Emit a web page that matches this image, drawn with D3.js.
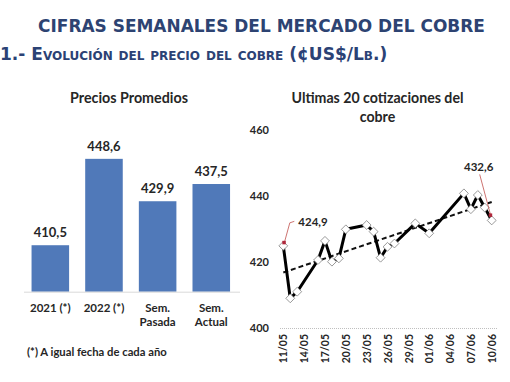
<!DOCTYPE html>
<html><head><meta charset="utf-8">
<script src="https://cdn.jsdelivr.net/npm/d3@7"></script>
<style>
html,body{margin:0;padding:0;background:#fff;}
svg{display:block;}
</style></head>
<body>
<svg id="c" width="510" height="382"></svg>
<script>
// ---- data ----
const barCategories = [["2021 (*)"], ["2022 (*)"], ["Sem.", "Pasada"], ["Sem.", "Actual"]];
const barValues = [410.5, 448.6, 429.9, 437.5];
const barLabels = ["410,5", "448,6", "429,9", "437,5"];

const lineDates = ["2022-05-11","2022-05-12","2022-05-13","2022-05-16","2022-05-17","2022-05-18","2022-05-19","2022-05-20",
  "2022-05-23","2022-05-24","2022-05-25","2022-05-26","2022-05-27","2022-05-30","2022-06-01",
  "2022-06-06","2022-06-07","2022-06-08","2022-06-09","2022-06-10"];
const lineValues = [424.9, 409.0, 411.0, 420.6, 426.4, 420.1, 421.1, 429.9,
  431.2, 429.2, 421.3, 424.6, 425.6, 431.7, 428.7,
  440.8, 436.0, 440.3, 436.5, 432.6];
const xTickLabels = ["11/05","14/05","17/05","20/05","23/05","26/05","29/05","01/06","04/06","07/06","10/06"];
const yTicks = [400, 420, 440, 460];

const svg = d3.select("#c");
const FONT = "Lato, 'Open Sans', sans-serif";
const TXT = "#262626";

function fitText(sel, w) {
  const cur = sel.node().getComputedTextLength();
  const fs = parseFloat(sel.attr("font-size"));
  sel.attr("font-size", fs * w / cur);
}

// ---- titles ----
const t1 = svg.append("text").attr("x", 261.5).attr("y", 32).attr("text-anchor", "middle")
  .attr("font-family", "'DejaVu Sans', Verdana, sans-serif").attr("font-weight", "bold")
  .attr("font-size", 17).attr("fill", "#2d4372").text("CIFRAS SEMANALES DEL MERCADO DEL COBRE");
fitText(t1, 447);
const t2 = svg.append("text").attr("x", 0).attr("y", 60)
  .attr("font-family", "'DejaVu Sans', Verdana, sans-serif").attr("font-weight", "bold")
  .attr("font-size", 13.5).attr("fill", "#2b4275").style("font-variant", "small-caps")
  .text("1.- Evolución del precio del cobre (¢US$/Lb.)");
fitText(t2, 375);

// ---- bar chart ----
const xb = d3.scaleBand().domain(d3.range(barValues.length)).range([23.5, 238.1])
  .paddingInner(0.3).paddingOuter(0.15);
const yb = d3.scaleLinear().domain([390, 460]).range([291.7, 133]);

const pt = svg.append("text").attr("x", 129).attr("y", 103).attr("text-anchor", "middle")
  .attr("font-family", FONT).attr("font-weight", "bold").attr("font-size", 14).attr("fill", TXT)
  .text("Precios Promedios");
fitText(pt, 118);

svg.append("g").selectAll("rect").data(barValues).join("rect")
  .attr("x", (d, i) => xb(i)).attr("width", xb.bandwidth())
  .attr("y", d => yb(d)).attr("height", d => yb(390) - yb(d))
  .attr("fill", "#5079b9");

svg.append("line").attr("x1", 24).attr("x2", 240).attr("y1", yb(390) + 0.5).attr("y2", yb(390) + 0.5)
  .attr("stroke", "#d9d9d9").attr("stroke-width", 1);

svg.append("g").selectAll("text").data(barValues).join("text")
  .attr("x", (d, i) => xb(i) + xb.bandwidth() / 2).attr("y", d => yb(d) - 8)
  .attr("text-anchor", "middle").attr("font-family", FONT).attr("font-weight", "bold")
  .attr("font-size", 13).attr("fill", TXT).text((d, i) => barLabels[i]);

const cat = svg.append("g").selectAll("text").data(barCategories).join("text")
  .attr("x", (d, i) => xb(i) + xb.bandwidth() / 2).attr("y", 312)
  .attr("text-anchor", "middle").attr("font-family", FONT).attr("font-weight", "bold")
  .attr("font-size", 11.5).attr("fill", TXT);
cat.selectAll("tspan").data(d => d).join("tspan")
  .attr("x", function () { return d3.select(this.parentNode).attr("x"); })
  .attr("dy", (d, i) => i === 0 ? 0 : 14).text(d => d);

const fn = svg.append("text").attr("x", 27).attr("y", 356)
  .attr("font-family", FONT).attr("font-weight", "bold").attr("font-size", 10.5).attr("fill", TXT)
  .text("(*) A igual fecha de cada año");
fitText(fn, 140);

// ---- line chart ----
const parse = d3.timeParse("%Y-%m-%d");
const dates = lineDates.map(parse);
const tickDates = xTickLabels.map(s => { const [dd, mm] = s.split("/"); return new Date(2022, +mm - 1, +dd); });
const xl = d3.scaleTime().domain([dates[0], dates[dates.length - 1]]).range([283.3, 491.7]);
const yl = d3.scaleLinear().domain([400, 460]).range([328, 130]);

const lt = svg.append("text").attr("x", 377.5).attr("y", 103).attr("text-anchor", "middle")
  .attr("font-family", FONT).attr("font-weight", "bold").attr("font-size", 14).attr("fill", TXT)
  .text("Ultimas 20 cotizaciones del");
fitText(lt, 172);
svg.append("text").attr("x", 377.5).attr("y", 122).attr("text-anchor", "middle")
  .attr("font-family", FONT).attr("font-weight", "bold").attr("font-size", lt.attr("font-size")).attr("fill", TXT)
  .text("cobre");

// y axis (labels only)
const yAx = svg.append("g").attr("transform", "translate(274,0)")
  .call(d3.axisLeft(yl).tickValues(yTicks).tickSize(0).tickPadding(5).tickFormat(d3.format("d")));
yAx.select(".domain").remove();
yAx.selectAll("text").attr("font-family", FONT).attr("font-weight", "bold").attr("font-size", 11).attr("fill", TXT);

// x axis
const xAx = svg.append("g").attr("transform", "translate(0,328)")
  .call(d3.axisBottom(xl).tickValues(tickDates).tickSize(0).tickPadding(0).tickFormat(d3.timeFormat("%d/%m")));
xAx.select(".domain").attr("d", "M280,0.5H497").attr("stroke", "#bfbfbf").attr("stroke-dasharray", "1,1");
xAx.selectAll("text").attr("font-family", FONT).attr("font-weight", "bold").attr("font-size", 10.5).attr("fill", TXT)
  .attr("transform", "rotate(-90)").attr("text-anchor", "end").attr("x", -6).attr("y", 0).attr("dy", "0.35em");

// trend line (least squares on dates)
const xs = dates.map(d => (d - dates[0]) / 864e5);
const mx = d3.mean(xs), my = d3.mean(lineValues);
const slope = d3.sum(xs, (x, i) => (x - mx) * (lineValues[i] - my)) / d3.sum(xs, x => (x - mx) * (x - mx));
const icpt = my - slope * mx;
const tEnd = d3.timeDay.offset(dates[dates.length - 1], 0.4);
const trendPts = [dates[0], tEnd].map(d => [xl(d), yl(icpt + slope * (d - dates[0]) / 864e5)]);
svg.append("path").attr("d", d3.line()(trendPts)).attr("fill", "none")
  .attr("stroke", "#111").attr("stroke-width", 2).attr("stroke-dasharray", "5,3");

// line
const pts = dates.map((d, i) => [xl(d), yl(lineValues[i])]);
svg.append("path").attr("d", d3.line()(pts)).attr("fill", "none")
  .attr("stroke", "#000").attr("stroke-width", 3).attr("stroke-linejoin", "round");

// markers
svg.append("g").selectAll("path").data(pts).join("path")
  .attr("transform", d => `translate(${d[0]},${d[1]})`)
  .attr("d", d3.symbol(d3.symbolDiamond2, 50))
  .attr("fill", "#fff").attr("stroke", "#7f7f7f").attr("stroke-width", 0.8);

// data labels with leader lines
const lab = "#c0504d";
const first = pts[0], last = pts[pts.length - 1];
svg.append("path").attr("d", d3.line()([[first[0] + 1, first[1] - 3], [first[0] + 6.5, first[1] - 23], [first[0] + 11, first[1] - 24.5]]))
  .attr("fill", "none").attr("stroke", lab).attr("stroke-width", 0.8);
svg.append("rect").attr("x", first[0] - 1).attr("y", first[1] - 5).attr("width", 3.5).attr("height", 3.5).attr("fill", "#b0283c");
svg.append("text").attr("x", first[0] + 15).attr("y", first[1] - 20).attr("font-family", FONT)
  .attr("font-weight", "bold").attr("font-size", 11.5).attr("fill", TXT).text("424,9");

svg.append("path").attr("d", d3.line()([[last[0] - 1, last[1] - 5], [last[0] - 12, last[1] - 46]]))
  .attr("fill", "none").attr("stroke", lab).attr("stroke-width", 0.8);
svg.append("rect").attr("x", last[0] - 3).attr("y", last[1] - 7).attr("width", 3.5).attr("height", 3.5).attr("fill", "#b0283c");
svg.append("text").attr("x", last[0] - 13).attr("y", last[1] - 49).attr("text-anchor", "middle").attr("font-family", FONT)
  .attr("font-weight", "bold").attr("font-size", 11.5).attr("fill", TXT).text("432,6");
</script>
</body></html>
